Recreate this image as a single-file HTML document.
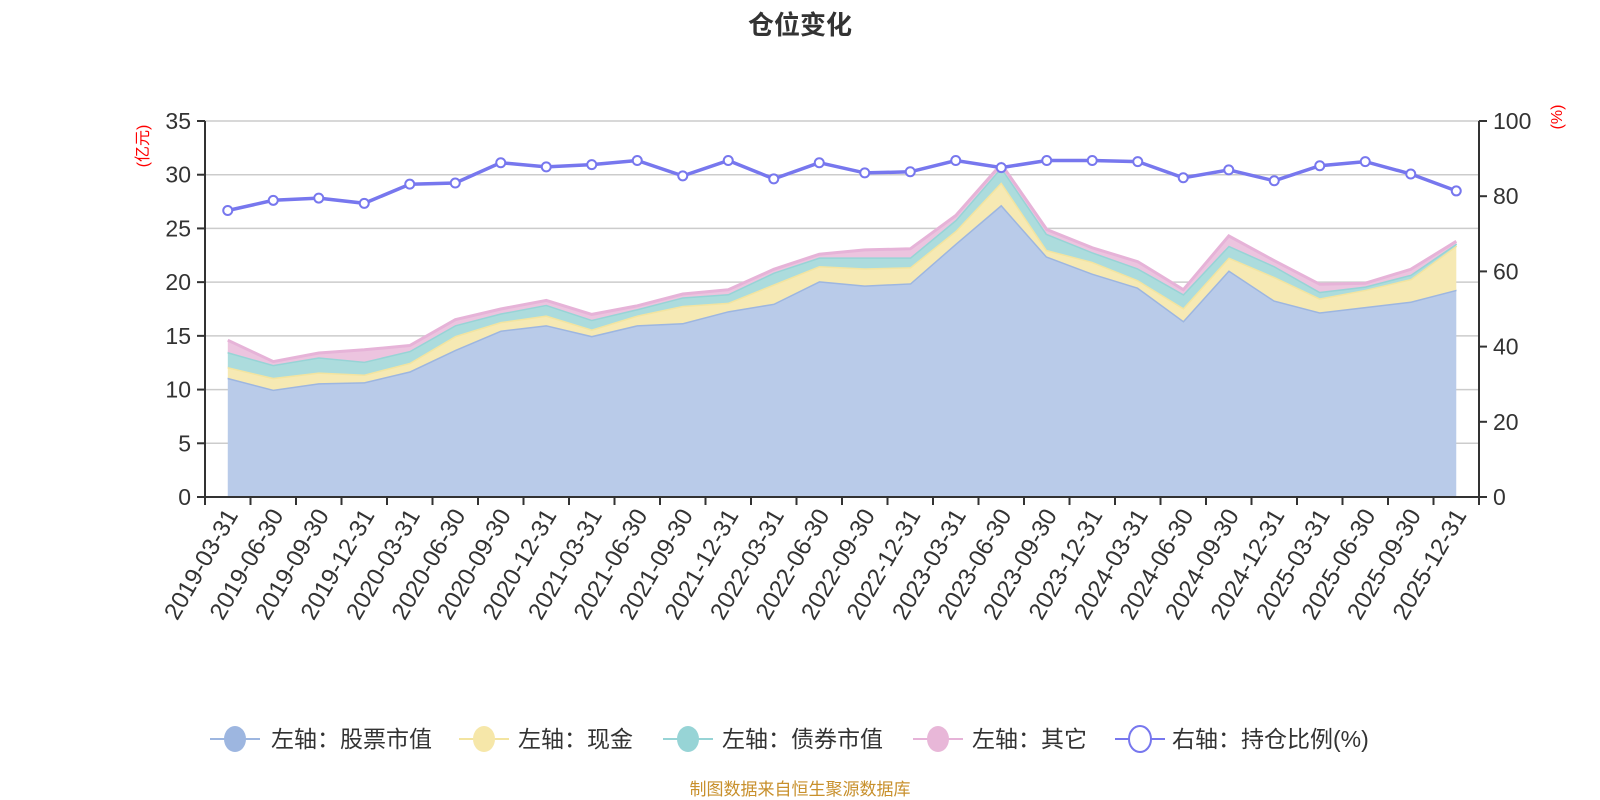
<!DOCTYPE html>
<html><head><meta charset="utf-8"><style>
body{margin:0;background:#fff;}
svg{display:block;font-family:"Liberation Sans","Noto Sans CJK SC",sans-serif;}
</style></head><body>
<svg id="c" width="1600" height="800" xmlns="http://www.w3.org/2000/svg"></svg>
<script>
const L=205,R=1479,T=121,B=497,n=28,bw=(R-L)/n;
const yl=v=>B-v*(B-T)/35, yr=v=>B-v*(B-T)/100, xc=i=>L+bw*(i+0.5);
const stock=[11.1,10.0,10.6,10.7,11.7,13.7,15.5,16.0,15.0,16.0,16.2,17.3,18.0,20.1,19.7,19.9,23.6,27.2,22.4,20.8,19.5,16.4,21.1,18.3,17.2,17.7,18.2,19.3];
const cash=[12.1,11.1,11.6,11.4,12.5,15.0,16.3,16.9,15.6,16.9,17.8,18.1,19.8,21.5,21.3,21.4,24.8,29.3,23.0,21.9,20.2,17.6,22.3,20.5,18.5,19.3,20.3,23.4];
const bond=[13.5,12.3,13.0,12.6,13.6,16.0,17.1,17.9,16.5,17.5,18.6,18.9,20.9,22.3,22.3,22.3,25.8,30.7,24.5,22.8,21.3,18.9,23.4,21.5,19.1,19.6,20.7,23.6];
const oth=[14.6,12.6,13.4,13.7,14.1,16.5,17.5,18.3,17.0,17.8,18.9,19.3,21.2,22.6,23.0,23.1,26.2,31.0,24.9,23.2,21.9,19.3,24.3,22.0,19.8,19.9,21.2,23.8];
const ratio=[76.2,78.9,79.5,78.1,83.2,83.5,88.9,87.8,88.4,89.5,85.4,89.5,84.6,88.9,86.2,86.5,89.5,87.6,89.5,89.5,89.2,84.9,87.0,84.1,88.1,89.2,85.9,81.4];
const dates=[];for(let y=2019;y<=2025;y++)for(const m of["03-31","06-30","09-30","12-31"])dates.push(y+"-"+m);
let s='';
s+=`<text x="800" y="34" text-anchor="middle" font-size="26" font-weight="bold" fill="#333">仓位变化</text>`;
for(let k=1;k<=7;k++){const y=yl(k*5);s+=`<line x1="${L}" y1="${y}" x2="${R}" y2="${y}" stroke="#ccc" stroke-width="1.5"/>`;}
const pts=a=>a.map((v,i)=>`${xc(i).toFixed(1)},${yl(v).toFixed(1)}`);
function band(top,bot,fill,line){
 const tp=pts(top);let bp=bot?pts(bot).reverse():[`${xc(n-1)},${B}`,`${xc(0)},${B}`];
 s+=`<polygon points="${tp.join(' ')} ${bp.join(' ')}" fill="${fill}"/>`;
 s+=`<polyline points="${tp.join(' ')}" fill="none" stroke="${line}" stroke-width="3"/>`;
}
band(stock,null,'#b9cbe9','#9db6e0');
band(cash,stock,'#f6e9b3','#f3e4a0');
band(bond,cash,'#acdcdd','#97d4d6');
band(oth,bond,'#ecc4df','#e6b3d8');
s+=`<line x1="${L}" y1="${T}" x2="${L}" y2="${B}" stroke="#333" stroke-width="2"/>`;
s+=`<line x1="${R}" y1="${T}" x2="${R}" y2="${B}" stroke="#333" stroke-width="2"/>`;
s+=`<line x1="${L-8}" y1="${B}" x2="${R+8}" y2="${B}" stroke="#333" stroke-width="2"/>`;
for(let k=0;k<=7;k++){const y=yl(k*5);s+=`<line x1="${L-8}" y1="${y}" x2="${L}" y2="${y}" stroke="#333" stroke-width="2"/><text x="${L-14}" y="${y+8}" text-anchor="end" font-size="23" fill="#333">${k*5}</text>`;}
for(let k=0;k<=5;k++){const y=yr(k*20);s+=`<line x1="${R}" y1="${y}" x2="${R+8}" y2="${y}" stroke="#333" stroke-width="2"/><text x="${R+14}" y="${y+8}" font-size="23" fill="#333">${k*20}</text>`;}
for(let i=0;i<=n;i++){const x=L+bw*i;s+=`<line x1="${x}" y1="${B}" x2="${x}" y2="${B+8}" stroke="#333" stroke-width="2"/>`;}
for(let i=0;i<n;i++){const x=xc(i);s+=`<text transform="translate(${x+4},${B+14}) rotate(-60)" text-anchor="end" font-size="24" fill="#333" dy="8">${dates[i]}</text>`;}
s+=`<text transform="translate(148,146) rotate(-90)" text-anchor="middle" font-size="16" fill="#f00">(亿元)</text>`;
s+=`<text transform="translate(1562,117) rotate(-90)" text-anchor="middle" font-size="16" fill="#f00">(%)</text>`;
const rp=ratio.map((v,i)=>`${xc(i).toFixed(1)},${yr(v).toFixed(1)}`);
s+=`<polyline points="${rp.join(' ')}" fill="none" stroke="#7777ee" stroke-width="3.5"/>`;
ratio.forEach((v,i)=>{s+=`<circle cx="${xc(i)}" cy="${yr(v)}" r="4.5" fill="#fff" stroke="#7777ee" stroke-width="2"/>`;});
const lg=[[235,271,'左轴：股票市值','#9db6e0','#9db6e0'],[484,518,'左轴：现金','#f6e7a9','#f3e4a0'],[688,722,'左轴：债券市值','#97d4d6','#97d4d6'],[938,972,'左轴：其它','#e8b7d8','#e6b3d8'],[1140,1172,'右轴：持仓比例(%)','#fff','#7777ee']];
const ly=739;
lg.forEach(([cx,tx,t,f,l],i)=>{
 s+=`<line x1="${cx-25}" y1="${ly}" x2="${cx+25}" y2="${ly}" stroke="${l}" stroke-width="2"/>`;
 s+=`<ellipse cx="${cx}" cy="${ly}" rx="11" ry="13" fill="${f}" stroke="${i==4?l:'none'}" stroke-width="2"/>`;
 s+=`<text x="${tx}" y="${ly+8}" font-size="23" fill="#333">${t}</text>`;
});
s+=`<text x="800" y="795" text-anchor="middle" font-size="17" fill="#c8902c">制图数据来自恒生聚源数据库</text>`;
document.getElementById('c').innerHTML=s;
</script>
</body></html>
